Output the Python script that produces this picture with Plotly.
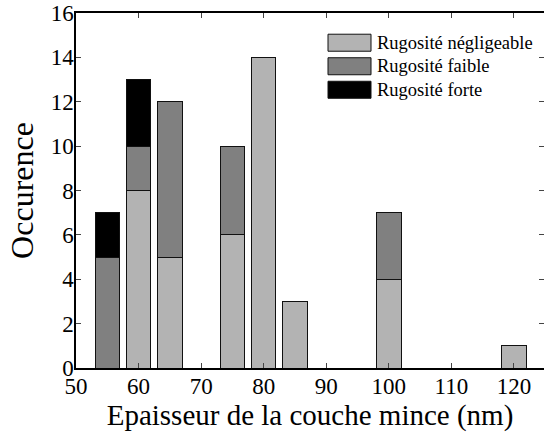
import plotly.graph_objects as go

thickness = [55, 60, 65, 75, 80, 85, 100, 120]
negligeable = [0, 8, 5, 6, 14, 3, 4, 1]
faible = [5, 2, 7, 4, 0, 0, 3, 0]
forte = [2, 3, 0, 0, 0, 0, 0, 0]
series_names = ["Rugosité négligeable", "Rugosité faible", "Rugosité forte"]
series_colors = ["#b3b3b3", "#808080", "#000000"]
x_ticks = [50, 60, 70, 80, 90, 100, 110, 120]
y_ticks = [0, 2, 4, 6, 8, 10, 12, 14, 16]

font_family = "Liberation Serif"
W, H = 544, 432
PL, PT, PW, PH = 76, 13.3, 468, 354.7  # plot area in page pixels

fig = go.Figure()
for name, vals, col in zip(series_names, [negligeable, faible, forte], series_colors):
    fig.add_trace(go.Bar(
        x=thickness, y=vals, name=name, width=3.9,
        marker=dict(color=col, line=dict(color="#111111", width=1)),
        showlegend=False,
    ))

def px(xp):
    return (xp - PL) / PW

def py(yp):
    return (PT + PH - yp) / PH

# manual legend (paper coordinates)
for i, (name, col) in enumerate(zip(series_names, series_colors)):
    yc = 43 + i * 23.5
    fig.add_shape(type="rect", xref="paper", yref="paper",
                  x0=px(328), x1=px(371), y0=py(yc + 8.5), y1=py(yc - 8.5),
                  fillcolor=col, line=dict(color="#111111", width=1))
    fig.add_annotation(xref="paper", yref="paper", x=px(375),
                       y=py(yc), text=name, showarrow=False,
                       xanchor="left", yanchor="middle",
                       font=dict(family=font_family, size=18.5, color="black"))

fig.update_layout(
    barmode="stack",
    width=W, height=H,
    margin=dict(l=PL, r=W - PL - PW, t=PT, b=H - PT - PH, autoexpand=False),
    paper_bgcolor="white", plot_bgcolor="white",
    font=dict(family=font_family, color="black"),
    xaxis=dict(range=[50, 124.8], tickvals=x_ticks, ticks="inside", ticklen=5,
               showline=True, linecolor="black", linewidth=1.5, mirror="ticks",
               showgrid=False, zeroline=False, automargin=False,
               ticklabeloverflow="allow", ticklabelstandoff=-3,
               tickfont=dict(size=23, family=font_family),
               title=dict(text="Epaisseur de la couche mince (nm)", standoff=4,
                          font=dict(size=29, family=font_family))),
    yaxis=dict(range=[0, 16], tickvals=y_ticks, ticks="inside", ticklen=5,
               showline=True, linecolor="black", linewidth=1.5, mirror="ticks",
               showgrid=False, zeroline=False, automargin=False,
               ticklabeloverflow="allow", ticklabelstandoff=-4,
               tickfont=dict(size=23, family=font_family),
               title=dict(text="Occurence", standoff=7,
                          font=dict(size=32, family=font_family))),
)
fig.write_html("out.html", config={"displayModeBar": False},
               post_script="document.body.style.margin='0';")
